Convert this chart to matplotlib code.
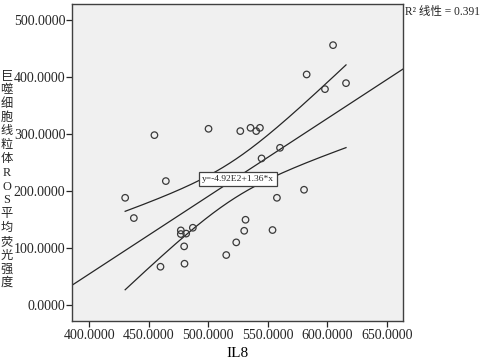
import numpy as np
import matplotlib
matplotlib.use("Agg")
import matplotlib.pyplot as plt

il8 = [582.7, 604.9, 598.1, 615.8, 454.7, 500.2, 526.9, 535.5, 540.3, 543.4,
       544.8, 560.3, 464.3, 430.1, 437.4, 580.5, 557.7, 531.3, 530.2, 554.0,
       476.9, 476.9, 481.4, 487.0, 459.8, 480.0, 479.7, 515.1, 523.5]
ros = [404.5, 455.9, 378.8, 389.3, 298.2, 309.3, 305.3, 311.0, 305.3, 311.0,
       257.4, 276.0, 217.7, 188.4, 152.9, 202.5, 188.4, 149.9, 130.6, 131.9,
       131.3, 124.9, 125.7, 135.9, 67.6, 72.9, 103.3, 88.1, 110.3]
xticks = [400, 450, 500, 550, 600, 650]
yticks = [0, 100, 200, 300, 400, 500]
ylabel_text = "巨噬细胞线粒体ROS平均荧光强度"
eq_text = "y=-4.92E2+1.36*x"
r2_text = "R² 线性 = 0.391"
t_crit = 2.052

x = np.array(il8)
y = np.array(ros)
n = len(x)
slope, intercept = np.polyfit(x, y, 1)

fig = plt.figure(figsize=(4.81, 3.60), dpi=100)
ax = fig.add_axes([0.1497, 0.1083, 0.6881, 0.8806])
ax.set_facecolor("#f0f0f0")
xlim = (385.4, 663.7)
ylim = (-27.5, 528)
ax.set_xlim(*xlim)
ax.set_ylim(*ylim)

xl = np.array(xlim)
ax.plot(xl, intercept + slope * xl, color="#262626", lw=0.9, zorder=2)

xs = np.linspace(x.min(), x.max(), 200)
resid = y - (intercept + slope * x)
s = np.sqrt(np.sum(resid ** 2) / (n - 2))
sxx = np.sum((x - x.mean()) ** 2)
se = s * np.sqrt(1.0 / n + (xs - x.mean()) ** 2 / sxx)
yf = intercept + slope * xs
ax.plot(xs, yf + t_crit * se, color="#262626", lw=0.9, zorder=2)
ax.plot(xs, yf - t_crit * se, color="#262626", lw=0.9, zorder=2)

ax.scatter(x, y, s=22, facecolors="none", edgecolors="#3a3a3a", linewidths=0.9, zorder=3)

serif = ["Liberation Serif", "Noto Sans CJK SC"]
ax.set_xticks(xticks)
ax.set_yticks(yticks)
ax.set_xticklabels([f"{v:.4f}" for v in xticks], fontfamily="Liberation Serif", fontsize=10.0)
ax.set_yticklabels([f"{v:.4f}" for v in yticks], fontfamily="Liberation Serif", fontsize=10.0)
ax.tick_params(direction="out", length=4, width=0.9, colors="#262626", pad=2)
ax.tick_params(axis="y", pad=0.8)
for sp in ax.spines.values():
    sp.set_color("#404040")
    sp.set_linewidth(1.0)

ax.set_xlabel("IL8", fontfamily="Liberation Serif", fontsize=11, labelpad=3)

fig.text(0.014, 0.501, "\n".join(ylabel_text), family=serif, fontsize=8.8,
         ha="center", va="center", linespacing=1.2, color="#262626")

ax.annotate(eq_text, xy=(524.7, 221.0), xycoords="data", ha="center", va="center",
            fontsize=6.8, fontfamily="Liberation Serif", color="#262626",
            bbox=dict(boxstyle="square,pad=0.3", fc="white", ec="#404040", lw=0.9), zorder=4)

fig.text(0.842, 0.967, r2_text, family=serif, fontsize=8.3, ha="left", va="center", color="#262626")

fig.savefig("out.png", dpi=100)
